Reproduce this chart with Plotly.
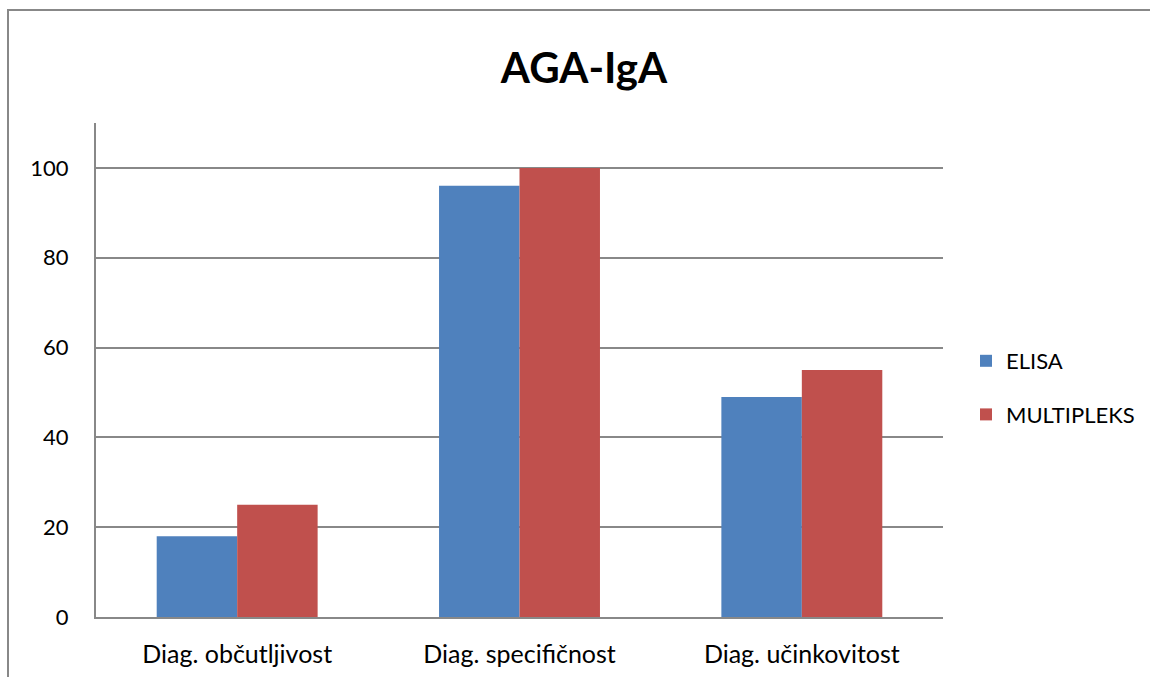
import plotly.graph_objects as go

categories = ["Diag. občutljivost", "Diag. specifičnost", "Diag. učinkovitost"]
elisa = [18, 96, 49]
multipleks = [25, 100, 55]
y_ticks = [0, 20, 40, 60, 80, 100]

W, H = 1150, 677
L, R, T, B = 96, 207, 123, 60
pw, ph = W - L - R, H - T - B

def px_x(x):
    return (x - L) / pw

def px_y(y):
    return (H - B - y) / ph

font_family = "Lato, 'Open Sans', sans-serif"

fig = go.Figure()
fig.add_bar(x=categories, y=elisa, name="ELISA", marker_color="#4F81BD",
            marker_line_width=0, legendgroup="a")
fig.add_bar(x=categories, y=multipleks, name="MULTIPLEKS", marker_color="#C0504D",
            marker_line_width=0, legendgroup="b")

fig.update_layout(
    width=W, height=H,
    margin=dict(l=L, r=R, t=T, b=B, autoexpand=False),
    paper_bgcolor="white", plot_bgcolor="white",
    barmode="group", bargap=0.43, bargroupgap=0,
    font=dict(family=font_family, size=20, color="black"),
    title=dict(text="<b>AGA-IgA</b>", x=px_x(584), xref="paper", xanchor="center",
               y=1 - 68 / H, yref="container", yanchor="middle",
               font=dict(size=42, family=font_family)),
    legend=dict(x=px_x(966), xref="paper", y=px_y(388), yanchor="middle",
                xanchor="left", font=dict(size=22), tracegroupgap=22,
                traceorder="grouped", bgcolor="rgba(0,0,0,0)"),
    showlegend=True,
)
fig.update_xaxes(showline=True, linecolor="#888888", linewidth=2, showgrid=False,
                 ticks="", ticklabelstandoff=14, tickfont=dict(size=25))
fig.update_yaxes(range=[0, 110], tickvals=y_ticks, showline=True, linecolor="#888888",
                 linewidth=2, showgrid=True, gridcolor="#888888", gridwidth=1.5,
                 ticks="", ticklabelstandoff=21, zeroline=False, tickfont=dict(size=22))

# outer chart frame
fig.add_shape(type="rect", xref="paper", yref="paper",
              x0=px_x(8), x1=px_x(1200), y0=px_y(720), y1=px_y(10),
              line=dict(color="#888888", width=2), fillcolor="rgba(0,0,0,0)", layer="below")

fig.write_html("out.html")
